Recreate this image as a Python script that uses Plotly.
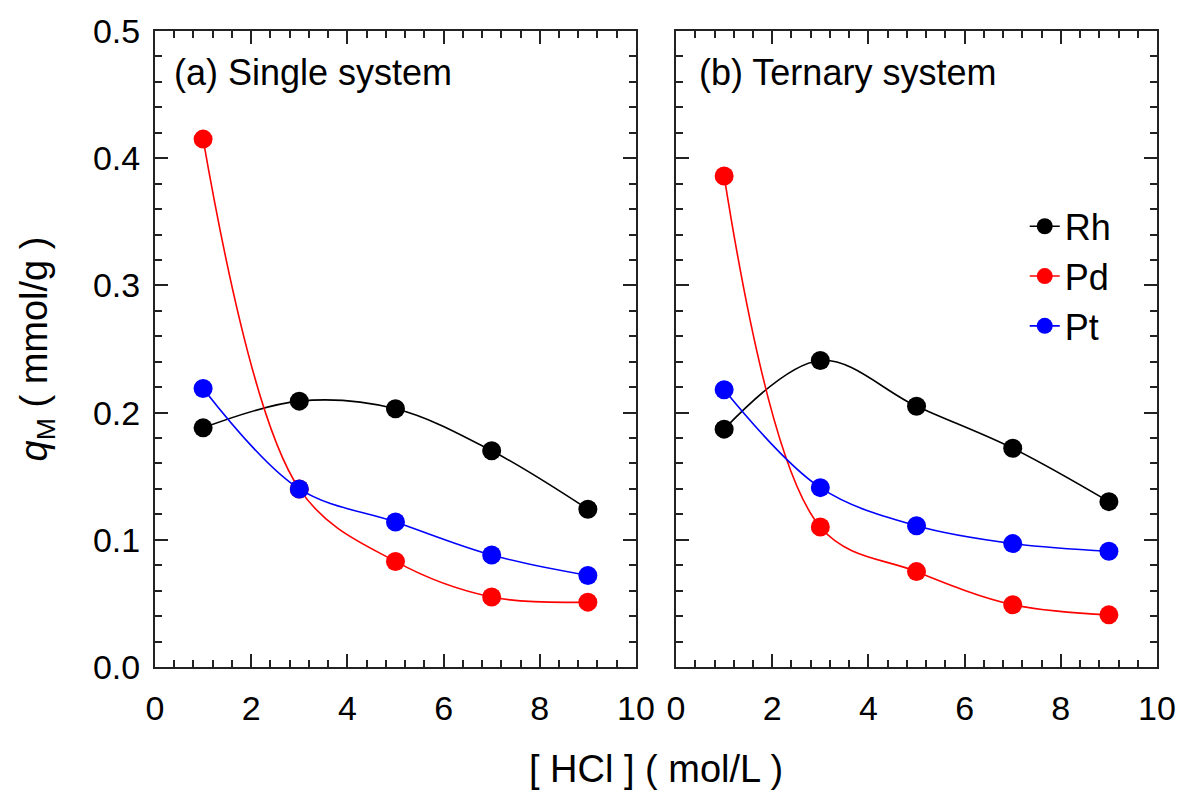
import plotly.graph_objects as go

hcl = [1, 3, 5, 7, 9]

# (a) Single system
single_rh = [0.188, 0.209, 0.203, 0.170, 0.124]
single_pd = [0.415, 0.140, 0.083, 0.055, 0.051]
single_pt = [0.219, 0.140, 0.114, 0.088, 0.072]

# (b) Ternary system
tern_rh = [0.187, 0.241, 0.205, 0.172, 0.130]
tern_pd = [0.386, 0.110, 0.075, 0.049, 0.041]
tern_pt = [0.218, 0.141, 0.111, 0.097, 0.091]

metals = ["Rh", "Pd", "Pt"]
colors = ["#000000", "#ff0000", "#0000ff"]
single = [single_rh, single_pd, single_pt]
ternary = [tern_rh, tern_pd, tern_pt]

FONT = "Arial, Liberation Sans, sans-serif"

fig = go.Figure()
for name, col, ys in zip(metals, colors, single):
    fig.add_trace(go.Scatter(x=hcl, y=ys, mode="lines+markers", name=name,
                             line=dict(color=col, width=1.6, shape="spline", smoothing=1.0),
                             marker=dict(color=col, size=19, line=dict(width=0)),
                             xaxis="x", yaxis="y", showlegend=False))
for name, col, ys in zip(metals, colors, ternary):
    fig.add_trace(go.Scatter(x=hcl, y=ys, mode="lines+markers", name=name,
                             line=dict(color=col, width=1.6, shape="spline", smoothing=1.0),
                             marker=dict(color=col, size=19, line=dict(width=0)),
                             xaxis="x2", yaxis="y2", showlegend=True))

axis_common = dict(showline=True, linecolor="#222", linewidth=2, mirror="ticks",
                   ticks="inside", tickcolor="#222", tickwidth=1.5, ticklen=13,
                   showgrid=False, zeroline=False,
                   tickfont=dict(family=FONT, size=34, color="black"))

xcommon = dict(axis_common, range=[0, 10], dtick=2, tick0=0, ticklabelstandoff=10,
               minor=dict(ticks="inside", dtick=0.4, tick0=0, ticklen=7,
                          tickcolor="#222", tickwidth=1.5, showgrid=False))
ycommon = dict(axis_common, range=[0, 0.5], dtick=0.1, tick0=0, tickformat=".1f",
               ticklabelstandoff=6,
               minor=dict(ticks="inside", dtick=0.02, tick0=0, ticklen=7,
                          tickcolor="#222", tickwidth=1.5, showgrid=False))

fig.update_layout(
    width=1188, height=800,
    margin=dict(l=155, r=31, t=24, b=133),
    paper_bgcolor="white", plot_bgcolor="white",
    font=dict(family=FONT, color="black"),
    xaxis=dict(xcommon, domain=[0, 0.48], anchor="y"),
    xaxis2=dict(xcommon, domain=[0.52, 1], anchor="y2"),
    yaxis=dict(ycommon, domain=[0, 1], anchor="x",
               title=dict(text="<i>q</i><sub>M</sub> ( mmol/g )",
                          font=dict(family=FONT, size=38), standoff=34)),
    yaxis2=dict(ycommon, domain=[0, 1], anchor="x2", showticklabels=False),
    legend=dict(x=0.868, y=0.74, xanchor="left", yanchor="top",
                bgcolor="rgba(0,0,0,0)", font=dict(family=FONT, size=36),
                tracegroupgap=0, itemwidth=30),
    annotations=[
        dict(text="(a) Single system", xref="paper", yref="paper",
             x=0.017, y=0.935, xanchor="left", yanchor="middle", showarrow=False,
             font=dict(family=FONT, size=36)),
        dict(text="(b) Ternary system", xref="paper", yref="paper",
             x=0.541, y=0.935, xanchor="left", yanchor="middle", showarrow=False,
             font=dict(family=FONT, size=36)),
        dict(text="[ HCl ] ( mol/L )", xref="paper", yref="paper",
             x=0.5, y=-0.16, xanchor="center", yanchor="middle", showarrow=False,
             font=dict(family=FONT, size=38)),
    ],
)

fig.write_html("out.html")
